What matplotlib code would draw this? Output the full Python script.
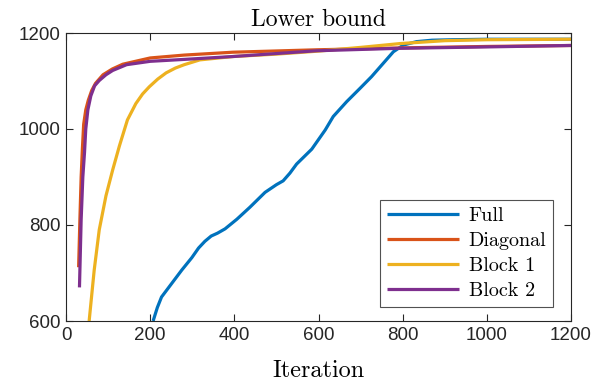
import matplotlib
matplotlib.use("Agg")
import matplotlib.pyplot as plt

# ---- data ----
full_x = [207, 217, 227, 251, 275, 299, 315, 330, 345, 360, 378, 406, 437, 473, 500, 516,
          532, 548, 584, 616, 635, 667, 699, 726, 754, 778, 802, 833, 870, 920, 1000, 1100, 1200]
full_y = [600, 628, 650, 678, 706, 732, 752, 766, 777, 783, 792, 812, 837, 868, 884, 892,
          908, 927, 958, 998, 1026, 1057, 1085, 1109, 1137, 1161, 1175, 1182, 1185, 1186, 1187, 1187, 1187]

diag_x = [30, 33, 36, 39, 42, 47, 53, 61, 70, 88, 110, 135, 170, 200, 281, 397,
          596, 800, 1000, 1200]
diag_y = [712, 811, 900, 960, 1010, 1040, 1060, 1080, 1095, 1113, 1125, 1135,
          1142, 1148, 1154, 1160, 1165, 1169, 1172, 1174]

block1_x = [55, 67, 79, 95, 111, 127, 146, 166, 182, 198, 218, 238, 260, 281, 318, 397, 500,
            596, 700, 794, 900, 1000, 1200]
block1_y = [600, 706, 790, 861, 915, 965, 1019, 1053, 1073, 1088, 1104, 1117, 1127, 1134, 1144,
            1151, 1156, 1162, 1170, 1178, 1184, 1186, 1187]

block2_x = [32, 36, 40, 44, 47, 52, 59, 68, 79, 95, 111, 144, 200, 281, 397,
            596, 786, 1000, 1200]
block2_y = [670, 811, 900, 951, 1000, 1040, 1069, 1090, 1101, 1113, 1122, 1134,
            1141, 1145, 1151, 1163, 1168, 1171, 1174]

labels = ["Full", "Diagonal", "Block 1", "Block 2"]
colors = ["#0072BD", "#D95319", "#EDB120", "#7E2F8E"]

xticks = [0, 200, 400, 600, 800, 1000, 1200]
yticks = [600, 800, 1000, 1200]

# ---- figure ----
fig = plt.figure(figsize=(5.95, 3.87), dpi=100)
ax = fig.add_axes([66 / 595, 1 - 321 / 387, 505 / 595, 288 / 387])

series = [(full_x, full_y), (diag_x, diag_y), (block1_x, block1_y), (block2_x, block2_y)]
for (xs, ys), lab, col in zip(series, labels, colors):
    ax.plot(xs, ys, color=col, lw=2.3, label=lab, solid_capstyle="butt",
            solid_joinstyle="round")

ax.set_xlim(0, 1200)
ax.set_ylim(600, 1200)
ax.set_xticks(xticks)
ax.set_yticks(yticks)

axc = "#262626"
for s in ax.spines.values():
    s.set_color(axc)
    s.set_linewidth(0.8)
ax.tick_params(direction="in", length=5, width=0.8, color=axc, top=True, right=True,
               labelsize=13.5, labelcolor=axc, pad=4)
for t in ax.get_xticklabels() + ax.get_yticklabels():
    t.set_family("Liberation Sans")

serif = "cmr10"
ax.set_title("Lower bound", family=serif, fontsize=17, pad=5)
ax.set_xlabel("Iteration", family=serif, fontsize=17.5, labelpad=12)

leg = ax.legend(loc="lower right", bbox_to_anchor=(0.965, 0.05),
                prop={"family": serif, "size": 14.5},
                frameon=True, fancybox=False, edgecolor=axc, handlelength=3.6,
                handletextpad=0.45, labelspacing=0.33, borderpad=0.35,
                borderaxespad=0.0)
leg.get_frame().set_linewidth(0.8)

fig.savefig("out.png", dpi=100)
